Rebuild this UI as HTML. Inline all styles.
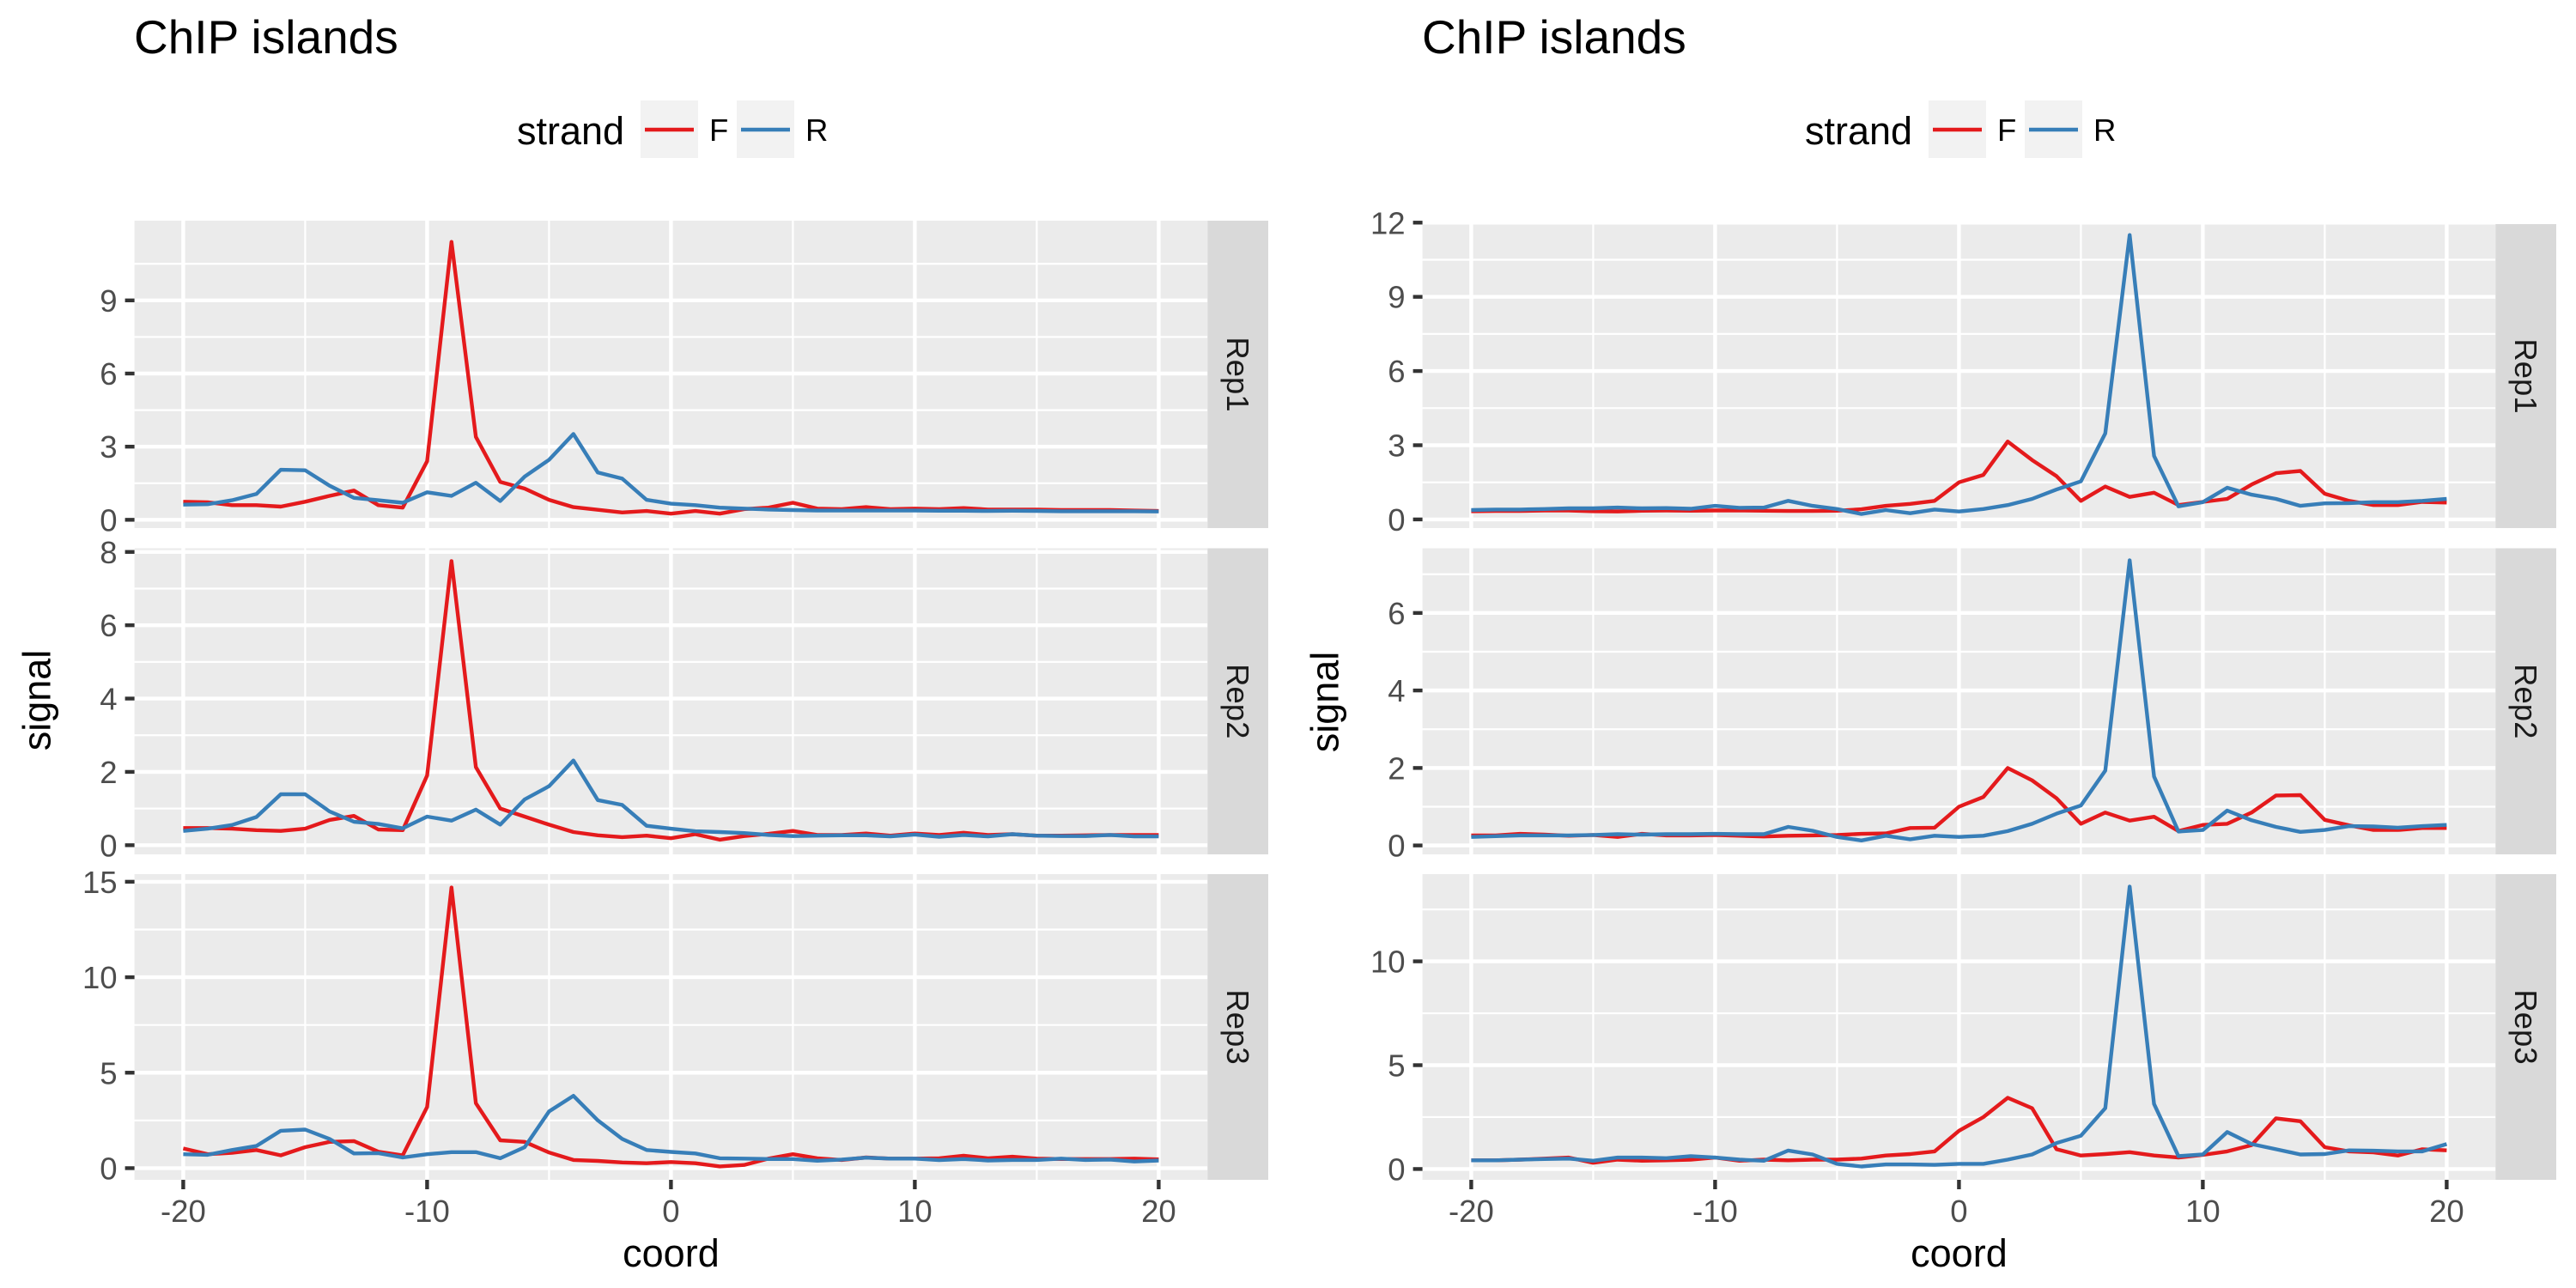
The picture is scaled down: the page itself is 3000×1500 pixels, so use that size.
<!DOCTYPE html>
<html><head><meta charset="utf-8"><style>
html,body{margin:0;padding:0;background:#fff}
svg{display:block;font-family:"Liberation Sans",Arial,sans-serif}
</style></head><body>
<svg id="chart" width="3000" height="1500" viewBox="0 0 3000 1500" xmlns="http://www.w3.org/2000/svg"></svg>
<script>
const coords = [];
for (let c = -20; c <= 20; c++) coords.push(c);
const xTicks = [-20, -10, 0, 10, 20];
const xMinor = [-15, -5, 5, 15];
const repNames = ["Rep1", "Rep2", "Rep3"];

// Left figure: F peak at -9, R bump at -4
const leftRep1F = [0.74,0.72,0.6,0.6,0.54,0.74,0.98,1.2,0.6,0.5,2.4,11.4,3.4,1.55,1.28,0.82,0.52,0.41,0.3,0.36,0.25,0.36,0.25,0.44,0.5,0.7,0.46,0.44,0.52,0.44,0.46,0.44,0.48,0.42,0.42,0.42,0.4,0.4,0.4,0.38,0.36];
const leftRep1R = [0.62,0.64,0.8,1.06,2.05,2.03,1.4,0.9,0.8,0.7,1.13,0.98,1.52,0.77,1.77,2.46,3.52,1.94,1.69,0.82,0.66,0.6,0.5,0.46,0.42,0.4,0.38,0.38,0.38,0.38,0.38,0.37,0.37,0.36,0.37,0.36,0.35,0.35,0.35,0.35,0.34];
const leftRep2F = [0.47,0.47,0.45,0.41,0.39,0.45,0.69,0.8,0.43,0.41,1.9,7.75,2.13,1.0,0.78,0.56,0.36,0.27,0.22,0.26,0.19,0.3,0.15,0.25,0.31,0.39,0.28,0.28,0.32,0.26,0.32,0.28,0.34,0.28,0.3,0.26,0.26,0.27,0.28,0.28,0.28];
const leftRep2R = [0.39,0.45,0.55,0.77,1.39,1.39,0.92,0.64,0.58,0.46,0.78,0.67,0.97,0.56,1.25,1.61,2.31,1.23,1.1,0.53,0.45,0.38,0.36,0.33,0.28,0.25,0.26,0.27,0.27,0.24,0.29,0.23,0.28,0.24,0.3,0.26,0.25,0.25,0.28,0.24,0.24];
const leftRep3F = [1.03,0.73,0.8,0.95,0.67,1.1,1.38,1.42,0.86,0.67,3.2,14.7,3.4,1.46,1.38,0.82,0.43,0.38,0.3,0.26,0.32,0.26,0.09,0.17,0.5,0.73,0.52,0.43,0.56,0.5,0.5,0.52,0.65,0.52,0.6,0.5,0.48,0.48,0.48,0.5,0.46];
const leftRep3R = [0.73,0.7,0.95,1.16,1.96,2.02,1.53,0.77,0.79,0.56,0.73,0.84,0.84,0.52,1.1,2.97,3.79,2.5,1.53,0.95,0.85,0.77,0.52,0.5,0.48,0.48,0.39,0.45,0.55,0.5,0.5,0.42,0.48,0.4,0.43,0.43,0.5,0.43,0.45,0.35,0.4];

// Right figure: R peak at 7, F bumps at 2 and 13-14
const rightRep1F = [0.33,0.34,0.34,0.36,0.36,0.33,0.32,0.35,0.36,0.35,0.36,0.36,0.35,0.34,0.34,0.35,0.41,0.55,0.63,0.75,1.5,1.8,3.15,2.4,1.75,0.75,1.33,0.91,1.08,0.58,0.71,0.83,1.41,1.87,1.96,1.04,0.75,0.58,0.58,0.71,0.68];
const rightRep1R = [0.38,0.4,0.4,0.42,0.45,0.45,0.48,0.45,0.46,0.43,0.55,0.47,0.48,0.75,0.55,0.42,0.22,0.38,0.25,0.4,0.32,0.42,0.58,0.83,1.21,1.54,3.48,11.5,2.57,0.53,0.7,1.28,1.0,0.83,0.55,0.65,0.66,0.7,0.7,0.75,0.83];
const rightRep2F = [0.26,0.26,0.3,0.28,0.25,0.27,0.22,0.3,0.26,0.26,0.27,0.25,0.23,0.25,0.26,0.27,0.3,0.31,0.45,0.46,1.0,1.25,2.0,1.68,1.22,0.56,0.85,0.64,0.74,0.37,0.53,0.56,0.85,1.29,1.3,0.66,0.52,0.4,0.4,0.45,0.45];
const rightRep2R = [0.22,0.24,0.26,0.26,0.26,0.27,0.29,0.28,0.29,0.29,0.3,0.29,0.29,0.48,0.38,0.22,0.13,0.25,0.16,0.25,0.22,0.25,0.37,0.56,0.82,1.03,1.93,7.36,1.78,0.36,0.4,0.9,0.65,0.48,0.35,0.4,0.5,0.49,0.46,0.5,0.53];
const rightRep3F = [0.42,0.42,0.45,0.5,0.55,0.3,0.45,0.4,0.42,0.45,0.55,0.4,0.45,0.42,0.45,0.45,0.5,0.65,0.72,0.85,1.84,2.5,3.43,2.93,0.95,0.65,0.72,0.81,0.65,0.55,0.68,0.85,1.15,2.44,2.3,1.05,0.85,0.8,0.65,0.95,0.9];
const rightRep3R = [0.42,0.42,0.45,0.48,0.5,0.4,0.55,0.55,0.52,0.62,0.55,0.45,0.4,0.89,0.7,0.25,0.12,0.22,0.22,0.2,0.25,0.25,0.45,0.7,1.25,1.6,2.93,13.6,3.13,0.62,0.7,1.78,1.2,0.95,0.7,0.72,0.9,0.88,0.85,0.85,1.2];

const leftTicks = [[0,3,6,9],[0,2,4,6,8],[0,5,10,15]];
const leftMinor = [[1.5,4.5,7.5,10.5],[1,3,5,7],[2.5,7.5,12.5]];
const rightTicks = [[0,3,6,9,12],[0,2,4,6],[0,5,10]];
const rightMinor = [[1.5,4.5,7.5,10.5],[1,3,5,7],[2.5,7.5,12.5]];
// domains [lo, hi] per panel (axis ranges)
const leftDomains = [[-0.34,12.27],[-0.25,8.1],[-0.61,15.4]];
const rightDomains = [[-0.35,11.94],[-0.23,7.67],[-0.52,14.2]];

const NS = "http://www.w3.org/2000/svg";
const svg = document.getElementById("chart");
function mk(tag, attrs, parent, text) {
  const e = document.createElementNS(NS, tag);
  for (const k in attrs) e.setAttribute(k, attrs[k]);
  if (text !== undefined) e.textContent = text;
  (parent || svg).appendChild(e);
  return e;
}
const RED = "#E41A1C", BLUE = "#377EB8";

function drawFigure(ox, side, dataF, dataR, ticks, minor, domains, tops, bottoms) {
  const g = mk("g", {});
  
  
  const px0 = ox + 156.6, px1 = ox + 1406.3;
  const xs = c => ox + 213.4 + (c + 20) * 28.4;
  const t = mk("text", {x: ox + 156, y: 62, "font-size": 55, fill: "#000"}, g, "ChIP islands");
  
  
  // legend
  const lg = mk("g", {}, g);
  
  
  const lt = mk("text", {x: ox + 602, y: 168, "font-size": 45, fill: "#000"}, lg, "strand");
  
  
  [["F", RED, 746], ["R", BLUE, 858]].forEach(([lab, col, kx]) => {
    const e = mk("g", {}, lg);
    
    
    mk("rect", {x: ox + kx, y: 117, width: 67, height: 67, fill: "#f2f2f2"}, e);
    mk("line", {x1: ox + kx + 5, x2: ox + kx + 62, y1: 151, y2: 151, stroke: col, "stroke-width": 4.4}, e);
    mk("text", {x: ox + kx + 80, y: 164, "font-size": 36.5, fill: "#000"}, e, lab);
  });
  for (let p = 0; p < 3; p++) {
    const top = tops[p], bot = bottoms[p];
    const [lo, hi] = domains[p];
    const ys = v => bot - (v - lo) / (hi - lo) * (bot - top);
    const pg = mk("g", {}, g);
    
    
    mk("rect", {x: px0, y: top, width: px1 - px0, height: bot - top, fill: "#ebebeb"}, pg);
    minor[p].forEach(v => { if (v > lo && v < hi) mk("line", {x1: px0, x2: px1, y1: ys(v), y2: ys(v), stroke: "#fff", "stroke-width": 2.2}, pg); });
    xMinor.forEach(c => mk("line", {x1: xs(c), x2: xs(c), y1: top, y2: bot, stroke: "#fff", "stroke-width": 2.2}, pg));
    ticks[p].forEach(v => {
      const y = ys(v);
      mk("line", {x1: px0, x2: px1, y1: y, y2: y, stroke: "#fff", "stroke-width": 4.4}, pg);
      mk("line", {x1: px0 - 11, x2: px0, y1: y, y2: y, stroke: "#333", "stroke-width": 4.4}, pg);
      const tl = mk("text", {x: px0 - 20, y: y + 13, "font-size": 36.5, fill: "#4d4d4d", "text-anchor": "end"}, pg, String(v));
      
      
    });
    xTicks.forEach(c => mk("line", {x1: xs(c), x2: xs(c), y1: top, y2: bot, stroke: "#fff", "stroke-width": 4.4}, pg));
    [[dataF[p], RED, "F"], [dataR[p], BLUE, "R"]].forEach(([arr, col, nm]) => {
      const pts = arr.map((v, i) => xs(coords[i]).toFixed(1) + "," + ys(v).toFixed(1)).join(" ");
      const pl = mk("polyline", {points: pts, fill: "none", stroke: col, "stroke-width": 4.4, "stroke-linejoin": "round"}, pg);
      
      
    });
    // strip
    mk("rect", {x: px1, y: top, width: 70.7, height: bot - top, fill: "#d9d9d9"}, pg);
    const cx = px1 + 35, cy = (top + bot) / 2;
    const st = mk("text", {x: cx, y: cy, "font-size": 36.5, fill: "#1a1a1a", "text-anchor": "middle", "dominant-baseline": "central", transform: `rotate(90 ${cx} ${cy})`}, pg, repNames[p]);
    
    
  }
  const last = bottoms[2];
  xTicks.forEach(c => {
    mk("line", {x1: xs(c), x2: xs(c), y1: last, y2: last + 11, stroke: "#333", "stroke-width": 4.4}, g);
    const xl = mk("text", {x: xs(c), y: 1423, "font-size": 36.5, fill: "#4d4d4d", "text-anchor": "middle"}, g, String(c));
    
    
  });
  const xt = mk("text", {x: (px0 + px1) / 2, y: 1475, "font-size": 45, fill: "#000", "text-anchor": "middle"}, g, "coord");
  
  
  const yc = (tops[0] + bottoms[2]) / 2;
  const yt = mk("text", {x: ox + 43, y: yc, "font-size": 45, fill: "#000", "text-anchor": "middle", "dominant-baseline": "central", transform: `rotate(-90 ${ox + 43} ${yc})`}, g, "signal");
  
  
}

drawFigure(0, "left", [leftRep1F, leftRep2F, leftRep3F], [leftRep1R, leftRep2R, leftRep3R], leftTicks, leftMinor, leftDomains, [257, 638.5, 1018], [615, 995, 1374]);
drawFigure(1500, "right", [rightRep1F, rightRep2F, rightRep3F], [rightRep1R, rightRep2R, rightRep3R], rightTicks, rightMinor, rightDomains, [261, 638.5, 1018], [615, 995, 1374]);
</script>
</body></html>
